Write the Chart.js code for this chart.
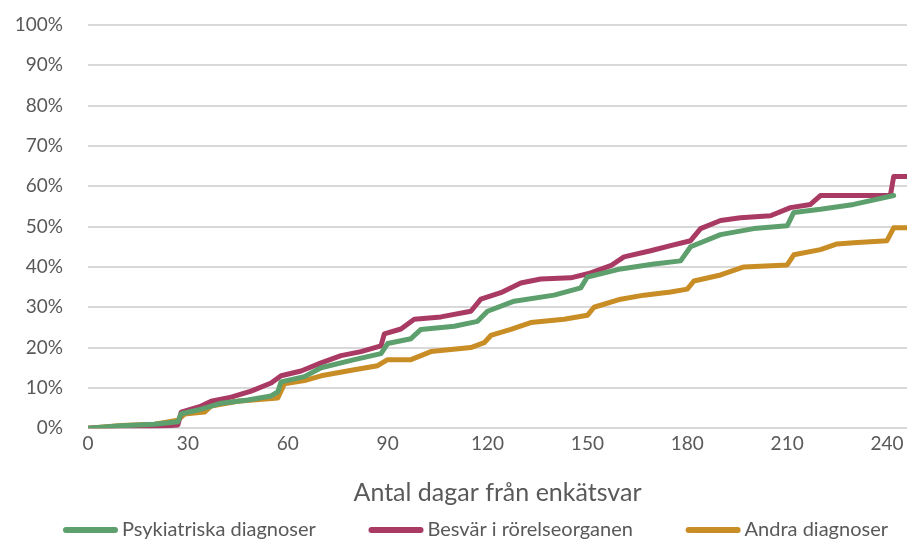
<!DOCTYPE html>
<html>
<head>
<meta charset="utf-8">
<script src="https://cdn.jsdelivr.net/npm/chart.js@4"></script>
<style>
  html, body { margin: 0; padding: 0; background: #fff; }
  #wrap { width: 908px; height: 543px; }
</style>
</head>
<body>
<div id="wrap"><canvas id="myChart"></canvas></div>
<script>
// days since survey answer, cumulative share (%)
const psykDays = [0, 10, 20, 27, 28, 33, 40, 48, 55, 57, 58, 65, 70, 80, 88, 90, 97, 100, 110, 117, 120, 128, 140, 148, 150, 160, 170, 178, 181, 190, 200, 210, 212, 220, 230, 242];
const psykVals = [0, 0.6, 1.0, 1.6, 3.6, 4.5, 6.2, 7.0, 8.0, 9.0, 11.5, 12.8, 15.0, 17.0, 18.5, 21.0, 22.2, 24.5, 25.3, 26.5, 29.0, 31.5, 33.0, 34.8, 37.5, 39.5, 40.7, 41.5, 45.0, 48.0, 49.5, 50.2, 53.5, 54.3, 55.5, 57.7];

const besvDays = [0, 10, 20, 27, 28, 34, 37, 43, 49, 55, 58, 64, 70, 76, 82, 88, 89, 94, 98, 106, 115, 118, 124, 130, 136, 145, 151, 157, 161, 169, 175, 181, 184, 190, 196, 205, 211, 217, 220, 241, 242, 246];
const besvVals = [0, 0.2, 0.4, 0.8, 4.0, 5.5, 6.7, 7.7, 9.2, 11.2, 13.0, 14.2, 16.2, 18.0, 19.0, 20.4, 23.4, 24.6, 27.0, 27.6, 29.0, 32.0, 33.6, 36.0, 37.0, 37.3, 38.5, 40.3, 42.5, 44.0, 45.3, 46.5, 49.5, 51.5, 52.2, 52.7, 54.7, 55.5, 57.7, 57.7, 62.4, 62.4];

const andraDays = [0, 10, 20, 27, 29, 35, 37, 45, 57, 59, 65, 70, 80, 87, 90, 97, 103, 115, 119, 121, 127, 133, 143, 150, 152, 160, 167, 175, 180, 182, 190, 197, 210, 212, 220, 225, 230, 240, 242, 246];
const andraVals = [0, 0.7, 1.0, 2.0, 3.5, 4.0, 5.5, 6.7, 7.5, 11.0, 11.8, 13.0, 14.5, 15.5, 17.0, 17.0, 19.0, 20.0, 21.2, 23.0, 24.5, 26.2, 27.0, 28.0, 30.0, 32.0, 33.0, 33.8, 34.5, 36.5, 38.0, 40.0, 40.5, 43.0, 44.3, 45.7, 46.0, 46.5, 49.7, 49.7];

const seriesNames = ['Psykiatriska diagnoser', 'Besvär i rörelseorganen', 'Andra diagnoser'];
const seriesColors = ['#5d9f6d', '#a93a63', '#c98d26'];
const xTicks = [0, 30, 60, 90, 120, 150, 180, 210, 240];
const yTicks = [0, 10, 20, 30, 40, 50, 60, 70, 80, 90, 100];

function toPoints(days, vals) {
  return days.map((d, i) => ({ x: d, y: vals[i] }));
}

const allDays = [psykDays, besvDays, andraDays];
const allVals = [psykVals, besvVals, andraVals];

// bottom legend drawn by hand so the gaps match the original (line, small gap, text)
const bottomLegend = {
  id: 'bottomLegend',
  afterDraw(chart) {
    const c = chart.ctx;
    const lineW = 55, gap = 4, left = 63, right = 888, y = 530;
    c.save();
    c.font = '20px Lato';
    c.textBaseline = 'middle';
    const widths = chart.data.datasets.map(ds => c.measureText(ds.label).width);
    const used = widths.reduce((a, w) => a + lineW + gap + w, 0);
    const itemGap = (right - left - used) / (widths.length - 1);
    let x = left;
    chart.data.datasets.forEach((ds, i) => {
      c.strokeStyle = ds.borderColor;
      c.lineWidth = 6;
      c.lineCap = 'round';
      c.beginPath();
      c.moveTo(x + 3, y);
      c.lineTo(x + lineW - 3, y);
      c.stroke();
      c.fillStyle = '#595959';
      c.fillText(ds.label, x + lineW + gap, y);
      x += lineW + gap + widths[i] + itemGap;
    });
    c.restore();
  }
};

const ctx = document.getElementById('myChart');
const myChart = new Chart(ctx, {
  type: 'line',
  data: {
    datasets: seriesNames.map((name, i) => ({
      label: name,
      data: toPoints(allDays[i], allVals[i]),
      borderColor: seriesColors[i],
      backgroundColor: seriesColors[i],
      borderWidth: 5,
      pointRadius: 0,
      tension: 0,
      fill: false,
      borderJoinStyle: 'round',
      borderCapStyle: 'round'
    }))
  },
  plugins: [bottomLegend],
  options: {
    responsive: true,
    maintainAspectRatio: false,
    animation: false,
    layout: { padding: { top: 25, right: 1, left: 0, bottom: 35 } },
    plugins: {
      legend: { display: false },
      tooltip: { enabled: false }
    },
    scales: {
      x: {
        type: 'linear',
        min: 0,
        max: 246,
        grid: { display: false, drawTicks: false },
        border: { display: false },
        afterBuildTicks: (scale) => { scale.ticks = xTicks.map(v => ({ value: v })); },
        ticks: { color: '#595959', font: { family: 'Lato', size: 19 }, padding: 4, maxRotation: 0 },
        title: { display: true, text: 'Antal dagar från enkätsvar', color: '#595959', font: { family: 'Lato', size: 25 }, padding: { top: 19, bottom: 0 } }
      },
      y: {
        min: 0,
        max: 100,
        afterBuildTicks: (scale) => { scale.ticks = yTicks.map(v => ({ value: v })); },
        afterFit: (scale) => { scale.width = 88; scale.paddingTop = 0; scale.paddingBottom = 0; },
        grid: { color: '#d9d9d9', lineWidth: 2, drawTicks: false },
        border: { display: false },
        ticks: { color: '#595959', font: { family: 'Lato', size: 19 }, padding: 25, callback: v => v + '%' }
      }
    }
  }
});
</script>
</body>
</html>
